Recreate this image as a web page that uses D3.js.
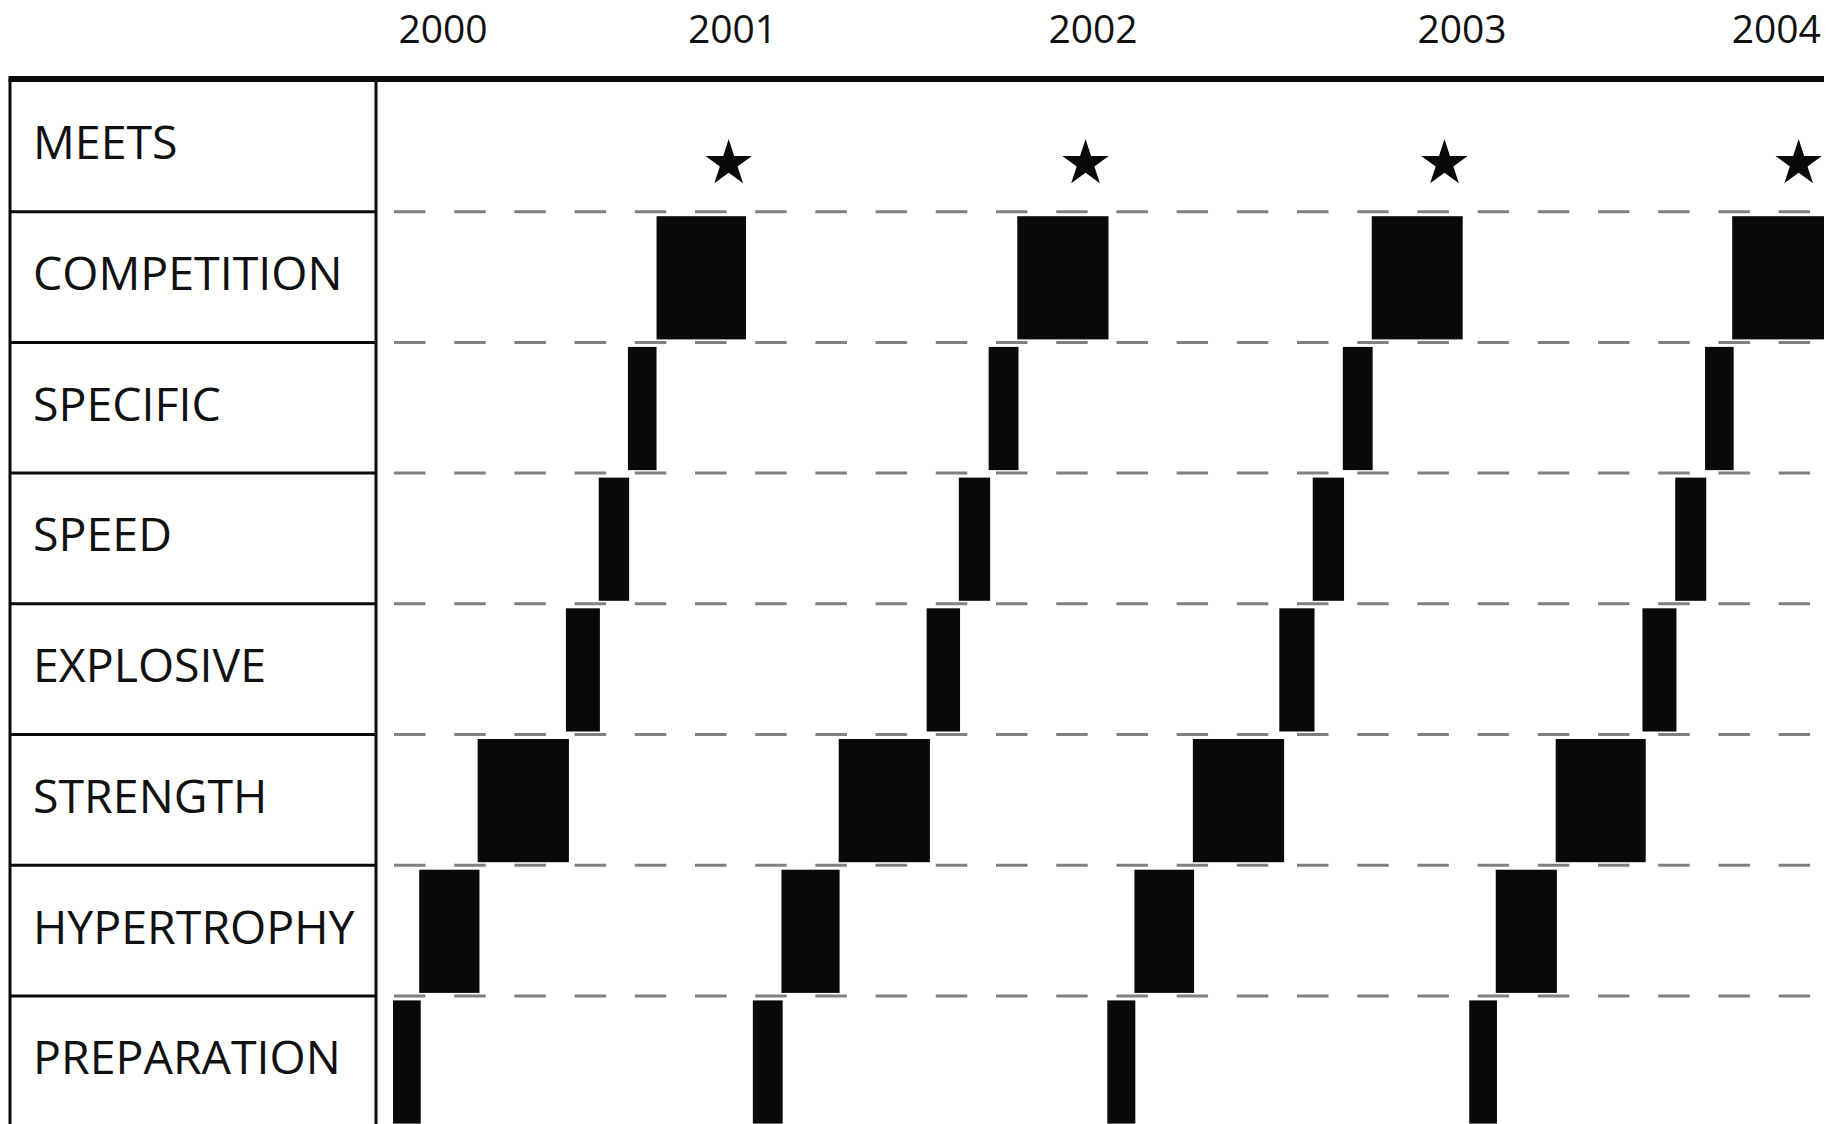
<!DOCTYPE html>
<html>
<head>
    <title>Training Periodization</title>
    <script src="https://d3js.org/d3.v7.min.js"></script>
    <style>
        body { margin: 0; background: #fff; }
        text { font-family: "Open Sans", "Noto Sans", sans-serif; fill: #111; }
    </style>
</head>
<body>
    <svg width="1837" height="1124"></svg>
    <script>
        // rows from top to bottom
        const phases = ["MEETS", "COMPETITION", "SPECIFIC", "SPEED", "EXPLOSIVE", "STRENGTH", "HYPERTROPHY", "PREPARATION"];

        // year labels and where they sit (months from Jan 2000)
        const years = ["2000", "2001", "2002", "2003", "2004"];
        const yearPos = [1.68, 11.39, 23.48, 35.86, 46.4];

        // meets (stars), in months
        const meets = [11.26, 23.23, 35.27, 47.15];

        // blocks per phase: [start, end] in months
        const competition = [[8.84, 11.84], [20.94, 24.0], [32.83, 35.88], [44.92, 48.0]];
        const specific    = [[7.88, 8.84], [19.98, 20.98], [31.86, 32.86], [44.01, 44.97]];
        const speed       = [[6.9, 7.92], [18.98, 20.03], [30.85, 31.9], [43.01, 44.05]];
        const explosive   = [[5.8, 6.94], [17.9, 19.02], [29.73, 30.91], [41.91, 43.05]];
        const strength    = [[2.84, 5.9], [14.95, 18.01], [26.83, 29.89], [39.0, 42.02]];
        const hypertrophy = [[0.88, 2.9], [13.03, 14.98], [24.87, 26.87], [36.99, 39.04]];
        const preparation = [[0, 0.93], [12.07, 13.07], [23.96, 24.9], [36.1, 37.03]];

        const blocks = [];
        [["COMPETITION", competition], ["SPECIFIC", specific], ["SPEED", speed],
         ["EXPLOSIVE", explosive], ["STRENGTH", strength], ["HYPERTROPHY", hypertrophy],
         ["PREPARATION", preparation]].forEach(([p, arr]) => {
            arr.forEach(d => blocks.push({phase: p, start: d[0], end: d[1]}));
        });

        const svg = d3.select("svg"),
              tableLeft = 10,
              tableRight = 376,
              plotLeft = 393,
              plotRight = 1824,
              ruleY = 79,
              topY = 81,
              rowH = 130.7;

        const x = d3.scaleLinear()
                    .domain([0, 48])
                    .range([plotLeft, plotRight]);
        const y = d3.scaleBand()
                    .domain(phases)
                    .range([topY, topY + rowH * phases.length]);

        // dashed separators in the plot area
        svg.append("g")
           .selectAll("line")
           .data(phases)
           .enter().append("line")
           .attr("x1", 394)
           .attr("x2", plotRight)
           .attr("y1", d => y(d) + y.bandwidth())
           .attr("y2", d => y(d) + y.bandwidth())
           .attr("stroke", "#808080")
           .attr("stroke-width", 3)
           .attr("stroke-dasharray", "31.5,28.7");

        // blocks
        svg.append("g")
           .selectAll("rect")
           .data(blocks)
           .enter().append("rect")
           .attr("x", d => x(d.start))
           .attr("width", d => x(d.end) - x(d.start))
           .attr("y", d => y(d.phase) + 4.5)
           .attr("height", y.bandwidth() - 7.5)
           .attr("fill", "#0a0a0a");

        // meets
        svg.append("g")
           .selectAll("path")
           .data(meets)
           .enter().append("path")
           .attr("d", d3.symbol().type(d3.symbolStar).size(670))
           .attr("transform", d => `translate(${x(d)},${y("MEETS") + 82.5})`)
           .attr("fill", "#0a0a0a");

        // table on the left
        const table = svg.append("g");
        table.selectAll("line.row")
             .data(phases)
             .enter().append("line")
             .attr("class", "row")
             .attr("x1", tableLeft)
             .attr("x2", tableRight)
             .attr("y1", d => y(d) + y.bandwidth())
             .attr("y2", d => y(d) + y.bandwidth())
             .attr("stroke", "#0a0a0a")
             .attr("stroke-width", 3);
        table.append("line")
             .attr("x1", tableLeft).attr("x2", tableLeft)
             .attr("y1", ruleY).attr("y2", 1124)
             .attr("stroke", "#0a0a0a").attr("stroke-width", 3);
        table.append("line")
             .attr("x1", tableRight).attr("x2", tableRight)
             .attr("y1", ruleY).attr("y2", 1124)
             .attr("stroke", "#0a0a0a").attr("stroke-width", 3);
        table.selectAll("text")
             .data(phases)
             .enter().append("text")
             .attr("x", 33)
             .attr("y", d => y(d) + y.bandwidth() / 2 + 13)
             .style("font-size", "46.5px")
             .text(d => d);

        // thick top rule
        svg.append("line")
           .attr("x1", tableLeft - 1.5)
           .attr("x2", plotRight)
           .attr("y1", ruleY)
           .attr("y2", ruleY)
           .attr("stroke", "#0a0a0a")
           .attr("stroke-width", 6);

        // year labels
        svg.append("g")
           .selectAll("text")
           .data(years)
           .enter().append("text")
           .attr("x", (d, i) => x(yearPos[i]))
           .attr("y", 43)
           .attr("text-anchor", "middle")
           .style("font-size", "39px")
           .text(d => d);
    </script>
</body>
</html>
